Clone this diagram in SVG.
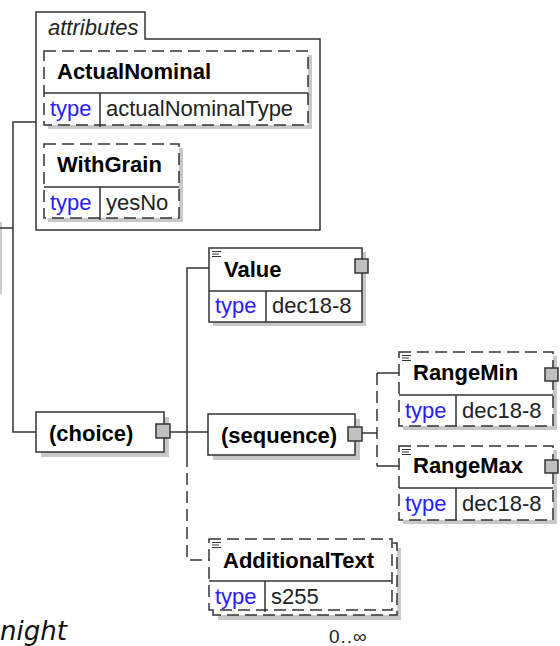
<svg xmlns="http://www.w3.org/2000/svg" width="560" height="646" viewBox="0 0 560 646">
<style>
  .bx{fill:#fff;stroke:#333;stroke-width:1.5}
  .dash{stroke-dasharray:12 6}
  .sh{fill:#c8c8c8}
  .ln{fill:none;stroke:#333;stroke-width:1.5}
  .sq{fill:#c0c0c0;stroke:#333;stroke-width:1.5}
  .nm{font-family:"Liberation Sans",Arial,sans-serif;font-weight:bold;font-size:22px;fill:#000}
  .tp{font-family:"Liberation Sans",Arial,sans-serif;font-size:22px;fill:#2a1cff}
  .vl{font-family:"Liberation Sans",Arial,sans-serif;font-size:22px;fill:#222}
  .ic{stroke:#333;stroke-width:1}
</style>
<rect width="560" height="646" fill="#fff"/>

<g id="connectors">
  <rect x="0" y="222" width="2" height="72" fill="#ccc"/>
  <path class="ln" d="M0,228 H13"/>
  <path class="ln" d="M36,122 H13 V432 H36"/>
  <path class="ln" d="M170,432 H208"/>
  <path class="ln" d="M209,268 H187 V455"/>
  <path class="ln dash" d="M187,455 V560 H209"/>
  <path class="ln" d="M362,433 H377"/>
  <path class="ln dash" d="M377,373 V466"/>
  <path class="ln" d="M377,373 H399 M377,466 H399"/>
</g>

<g id="attributes">
  <path class="ln" d="M36,39 V12 H145 V39 H320 V230 H36 Z" fill="#fff"/>
  <text x="48" y="35" font-family="Liberation Sans, Arial, sans-serif" font-style="italic" font-size="22" fill="#222">attributes</text>
</g>

<g id="ActualNominal">
  <rect class="sh" x="48" y="55" width="264" height="74"/>
  <rect class="bx dash" x="44" y="51" width="264" height="74"/>
  <path class="ln" d="M44,93 H308 M100,93 V127"/>
  <text class="nm" x="57" y="79">ActualNominal</text>
  <text class="tp" x="50" y="116">type</text>
  <text class="vl" x="106" y="116">actualNominalType</text>
</g>

<g id="WithGrain">
  <rect class="sh" x="48" y="148" width="135" height="74"/>
  <rect class="bx dash" x="44" y="144" width="135" height="74"/>
  <path class="ln" d="M44,187 H179 M100,187 V220"/>
  <text class="nm" x="57" y="172">WithGrain</text>
  <text class="tp" x="50" y="210">type</text>
  <text class="vl" x="106" y="210">yesNo</text>
</g>

<g id="choice">
  <rect class="sh" x="41" y="417" width="128" height="40"/>
  <rect class="bx" x="36" y="412" width="128" height="40"/>
  <rect class="sq" x="156" y="424" width="14" height="14"/>
  <text class="nm" x="49" y="441">(choice)</text>
</g>

<g id="Value">
  <rect class="sh" x="213" y="252" width="153" height="74"/>
  <rect class="bx" x="209" y="248" width="153" height="74"/>
  <path class="ln" d="M209,291 H362 M266,291 V322"/>
  <path class="ic" d="M212,251.5 H221 M212,254 H219 M212,256.5 H221"/>
  <rect class="sq" x="355" y="259" width="13" height="14"/>
  <text class="nm" x="224" y="277">Value</text>
  <text class="tp" x="215" y="313">type</text>
  <text class="vl" x="272" y="313">dec18-8</text>
</g>

<g id="sequence">
  <rect class="sh" x="213" y="419" width="147" height="41"/>
  <rect class="bx" x="208" y="414" width="147" height="41"/>
  <rect class="sq" x="348" y="427" width="14" height="14"/>
  <text class="nm" x="221" y="443">(sequence)</text>
</g>

<g id="RangeMin">
  <rect class="sh" x="403" y="356" width="154" height="74"/>
  <rect class="bx dash" x="399" y="352" width="154" height="74"/>
  <path class="ln" d="M399,395 H553 M456,395 V426"/>
  <path class="ic" d="M402,355.5 H411 M402,358 H409 M402,360.5 H411"/>
  <rect class="sq" x="545" y="368" width="13" height="13"/>
  <text class="nm" x="413" y="380">RangeMin</text>
  <text class="tp" x="405" y="418">type</text>
  <text class="vl" x="462" y="418">dec18-8</text>
</g>

<g id="RangeMax">
  <rect class="sh" x="403" y="450" width="154" height="74"/>
  <rect class="bx dash" x="399" y="446" width="154" height="74"/>
  <path class="ln" d="M399,488 H553 M456,488 V520"/>
  <path class="ic" d="M402,449.5 H411 M402,452 H409 M402,454.5 H411"/>
  <rect class="sq" x="545" y="460" width="13" height="13"/>
  <text class="nm" x="413" y="473">RangeMax</text>
  <text class="tp" x="405" y="511">type</text>
  <text class="vl" x="462" y="511">dec18-8</text>
</g>

<g id="AdditionalText">
  <rect class="sh" x="218" y="548" width="183" height="72"/>
  <rect class="bx dash" x="213" y="543" width="184" height="72"/>
  <rect class="bx dash" x="209" y="539" width="183" height="71"/>
  <path class="ln" d="M209,581 H392 M265,581 V612"/>
  <path class="ic" d="M212,542.5 H221 M212,545 H219 M212,547.5 H221"/>
  <text class="nm" x="223" y="568">AdditionalText</text>
  <text class="tp" x="215" y="604">type</text>
  <text class="vl" x="271" y="604">s255</text>
  <text x="329" y="643" font-family="Liberation Sans, Arial, sans-serif" font-size="19" letter-spacing="1" fill="#222">0..∞</text>
</g>

<text x="0" y="640" font-family="DejaVu Sans, sans-serif" font-style="italic" font-size="26" fill="#111">night</text>
</svg>
